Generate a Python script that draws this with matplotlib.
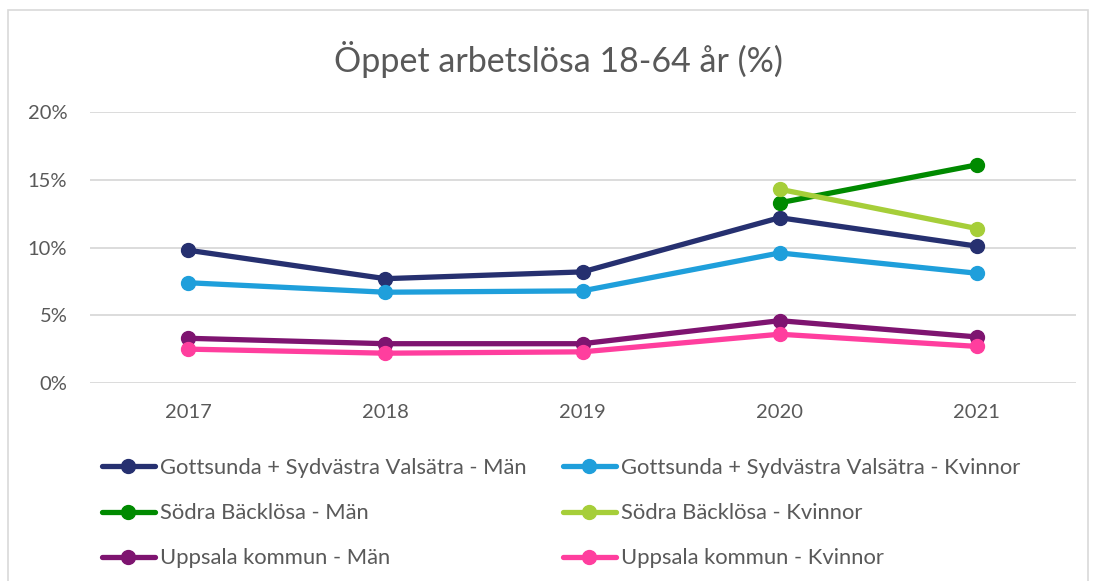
import matplotlib.pyplot as plt
from matplotlib.patches import Rectangle
import numpy as np

# Data
years = ["2017", "2018", "2019", "2020", "2021"]
gott_man = [9.8, 7.7, 8.2, 12.2, 10.1]
gott_kvinnor = [7.4, 6.7, 6.8, 9.6, 8.1]
sodra_man = [np.nan, np.nan, np.nan, 13.3, 16.1]
sodra_kvinnor = [np.nan, np.nan, np.nan, 14.3, 11.4]
upps_man = [3.3, 2.9, 2.9, 4.6, 3.4]
upps_kvinnor = [2.5, 2.2, 2.3, 3.6, 2.7]

labels = [
    "Gottsunda + Sydvästra Valsätra - Män",
    "Gottsunda + Sydvästra Valsätra - Kvinnor",
    "Södra Bäcklösa - Män",
    "Södra Bäcklösa - Kvinnor",
    "Uppsala kommun - Män",
    "Uppsala kommun - Kvinnor",
]
series = [gott_man, gott_kvinnor, sodra_man, sodra_kvinnor, upps_man, upps_kvinnor]
colors = ["#263070", "#1F9FDB", "#008A00", "#A6CE39", "#7E1470", "#FF3E9E"]

plt.rcParams['font.family'] = ['Lato', 'DejaVu Sans']
text_color = "#595959"
grid_color = "#D9D9D9"

fig = plt.figure(figsize=(10.93, 5.81), dpi=100)
ax = fig.add_axes([0.0819, 0.3408, 0.984 - 0.0819, 0.8072 - 0.3408])

x = np.arange(len(years))
handles = []
for vals, col, lab in zip(series, colors, labels):
    h, = ax.plot(x, vals, color=col, lw=3.8, marker="o", ms=10, label=lab,
                 solid_capstyle="round")
    handles.append(h)

ax.set_xlim(-0.5, len(years) - 0.5)
ax.set_ylim(0, 20)
ax.set_yticks([0, 5, 10, 15, 20])
ax.set_yticklabels([f"{v}%" for v in [0, 5, 10, 15, 20]])
ax.set_xticks(x)
ax.set_xticklabels(years)
ax.tick_params(axis="both", length=0, labelsize=14.5, labelcolor=text_color)
ax.tick_params(axis="y", pad=16)
ax.tick_params(axis="x", pad=15)
ax.grid(axis="y", color=grid_color, lw=1.3)
ax.set_axisbelow(True)
for s in ax.spines.values():
    s.set_visible(False)

fig.text(558 / 1093, 1 - 60 / 581, "Öppet arbetslösa 18-64 år (%)",
         ha="center", va="center", fontsize=24.5, color=text_color)

# two legend columns, placed like the original
leg_kw = dict(frameon=False, fontsize=15.8, handlelength=2.4, handletextpad=0.25,
              labelspacing=1.15, borderpad=0, borderaxespad=0, labelcolor=text_color)
leg1 = fig.legend([handles[i] for i in (0, 2, 4)], [labels[i] for i in (0, 2, 4)],
                  loc="upper left", bbox_to_anchor=(102 / 1093, 1 - 458 / 581), **leg_kw)
leg2 = fig.legend([handles[i] for i in (1, 3, 5)], [labels[i] for i in (1, 3, 5)],
                  loc="upper left", bbox_to_anchor=(563 / 1093, 1 - 458 / 581), **leg_kw)

# chart border
fig.add_artist(Rectangle((8 / 1093, -0.05), (1088 - 8) / 1093, 1.05 - 10 / 581,
                         transform=fig.transFigure, fill=False, ec=grid_color, lw=1.2))

fig.savefig("out.png", dpi=100)
